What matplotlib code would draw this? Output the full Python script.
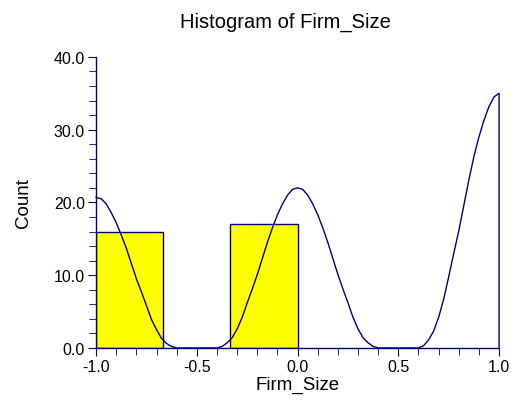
import numpy as np
import matplotlib.pyplot as plt
from matplotlib.ticker import MultipleLocator, FormatStrFormatter

plt.rcParams['font.family'] = ['Liberation Sans', 'DejaVu Sans']

# histogram bins (left edge, right edge) and counts
bin_left = [-1.0, -1/3]
bin_right = [-2/3, 0.0]
counts = [16, 17]

# density trace, x step 0.025
curve_x = np.round(np.arange(-1.0, 1.0001, 0.025), 3)
curve_y = [20.7, 20.5, 19.8, 18.6, 17.2, 15.5, 13.7, 11.6, 9.5, 7.7,
           5.8, 3.9, 2.5, 1.3, 0.6, 0.2, 0.0,
           0.0, 0.0, 0.0, 0.0, 0.0, 0.0, 0.0,
           0.0, 0.2, 0.7, 1.4, 2.6, 4.2, 6.2, 8.1, 10.1, 12.3,
           14.5, 16.5, 18.3, 19.8, 21.0, 21.8, 22.0,
           21.8, 21.0, 19.8, 18.3, 16.5, 14.5, 12.3, 10.1, 8.1,
           6.2, 4.2, 2.6, 1.4, 0.7, 0.2, 0.0,
           0.0, 0.0, 0.0, 0.0, 0.0, 0.0, 0.0,
           0.0, 0.3, 1.1, 2.3, 4.2, 6.7, 9.8, 13.0, 16.1, 19.6,
           23.1, 26.3, 29.0, 31.3, 33.2, 34.5, 35.0]

navy = '#000080'

fig = plt.figure(figsize=(5.14, 4.02), dpi=100)
ax = fig.add_axes([0.187, 0.132, 0.784, 0.724])

widths = [r - l for l, r in zip(bin_left, bin_right)]
ax.bar(bin_left, counts, width=widths, align='edge', color='#FFFF00',
       edgecolor=navy, linewidth=1.0, zorder=2)

xs = list(curve_x) + [1.0]
ys = curve_y + [0.0]
ax.plot(xs, ys, color=navy, linewidth=1.0, zorder=3, clip_on=False)

ax.set_xlim(-1.0, 1.0)
ax.set_ylim(0, 40)
ax.xaxis.set_major_locator(MultipleLocator(0.5))
ax.xaxis.set_minor_locator(MultipleLocator(0.1))
ax.yaxis.set_major_locator(MultipleLocator(10))
ax.yaxis.set_minor_locator(MultipleLocator(2))
ax.xaxis.set_major_formatter(FormatStrFormatter('%.1f'))
ax.yaxis.set_major_formatter(FormatStrFormatter('%.1f'))

for s in ['top', 'right']:
    ax.spines[s].set_visible(False)
for s in ['left', 'bottom']:
    ax.spines[s].set_color(navy)
    ax.spines[s].set_linewidth(1.0)

ax.tick_params(which='major', length=6, color=navy, labelsize=11.5, pad=2)
ax.tick_params(which='minor', length=5, color=navy)

ax.set_title('Histogram of Firm_Size', fontsize=14.5, pad=22, x=0.47)
ax.set_xlabel('Firm_Size', fontsize=13.5, labelpad=1)
ax.set_ylabel('Count', fontsize=13.5, labelpad=16)

fig.savefig('out.png', dpi=100)
